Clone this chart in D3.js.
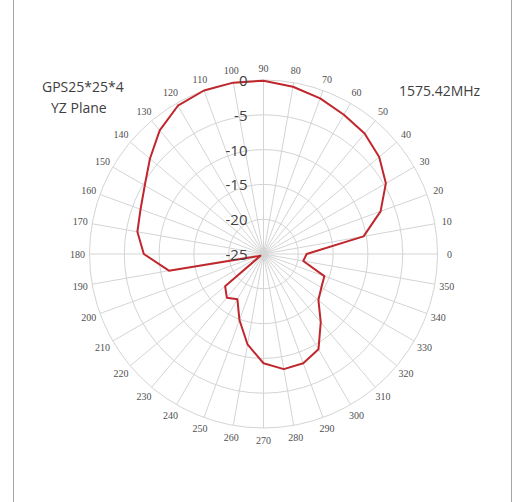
<!DOCTYPE html>
<html lang="en">
<head>
    <meta charset="UTF-8">
    <title>GPS25*25*4 YZ Plane</title>
    <script src="https://cdnjs.cloudflare.com/ajax/libs/d3/7.8.5/d3.min.js"></script>
    <style>
      body { margin: 0; background: #fff; }
      svg { display: block; }
    </style>
</head>
<body>
    <div id="chart"></div>
    <script>
        const width = 518;
        const height = 502;

        // angle in degrees (0 = right, counter-clockwise), gain in dB
        const angles = [0, 10, 20, 30, 40, 50, 60, 70, 80, 90, 100, 110, 120, 130, 140, 150, 160, 170,
                        180, 190, 200, 210, 220, 230, 240, 250, 260, 270, 280, 290, 300, 310, 320, 330, 340, 350];
        const gain = [-18.8, -10.4, -7.1, -4.7, -3.3, -2.4, -1.9, -1.2, -0.6, -0.1, 0.0, 0.0, -0.4, -1.8, -3.7, -5.3, -6.2, -6.6,
                      -7.8, -11.2, -24.0, -24.5, -17.8, -16.8, -17.5, -14.9, -11.8, -9.3, -8.2, -8.3, -9.2, -12.2, -14.7, -15.4, -15.7, -19.2];
        const ringTicks = [-25, -20, -15, -10, -5, 0];
        const labelAngles = angles;

        const cx = 263.5, cy = 254;
        const R = 174;

        const svg = d3.select('#chart').append('svg')
            .attr('width', width)
            .attr('height', height);

        // frame lines on the sides
        svg.append('line').attr('x1', 13.5).attr('x2', 13.5).attr('y1', 0).attr('y2', height)
            .attr('stroke', '#a6a6a6');
        svg.append('line').attr('x1', 511.5).attr('x2', 511.5).attr('y1', 0).attr('y2', height)
            .attr('stroke', '#a6a6a6');

        const r = d3.scaleLinear().domain([-25, 0]).range([0, R]);
        const rad = d => d * Math.PI / 180;

        const g = svg.append('g').attr('transform', `translate(${cx},${cy})`);

        // spokes
        g.selectAll('line.spoke')
            .data(labelAngles)
            .join('line')
            .attr('class', 'spoke')
            .attr('x1', 0).attr('y1', 0)
            .attr('x2', d => r(0) * Math.cos(rad(d)))
            .attr('y2', d => -r(0) * Math.sin(rad(d)))
            .attr('stroke', '#d4d4d4')
            .attr('stroke-width', 1);

        // rings
        g.selectAll('circle.ring')
            .data(ringTicks.filter(d => d > -25))
            .join('circle')
            .attr('class', 'ring')
            .attr('r', d => r(d))
            .attr('fill', 'none')
            .attr('stroke', '#d4d4d4')
            .attr('stroke-width', 1);

        // angle labels
        g.selectAll('text.ang')
            .data(labelAngles)
            .join('text')
            .attr('class', 'ang')
            .attr('x', d => (R + 12) * Math.cos(rad(d)))
            .attr('y', d => -(R + 12) * Math.sin(rad(d)))
            .attr('text-anchor', 'middle')
            .attr('dominant-baseline', 'central')
            .style('font-family', '"Liberation Serif", serif')
            .style('font-size', '10px')
            .style('fill', '#505050')
            .text(d => d);

        // pattern
        const line = d3.lineRadial()
            .angle((d, i) => Math.PI / 2 - rad(angles[i]))
            .radius(d => r(d))
            .curve(d3.curveLinearClosed);

        g.append('path')
            .datum(gain)
            .attr('d', line)
            .attr('fill', 'none')
            .attr('stroke', '#c0272d')
            .attr('stroke-width', 2)
            .attr('stroke-linejoin', 'round');

        // radial axis labels
        g.selectAll('text.rt')
            .data(ringTicks)
            .join('text')
            .attr('class', 'rt')
            .attr('x', -16)
            .attr('y', d => -r(d))
            .attr('text-anchor', 'end')
            .attr('dominant-baseline', 'central')
            .style('font-family', '"Open Sans", sans-serif')
            .style('font-size', '15px')
            .style('fill', '#404040')
            .text(d => d);

        // titles
        const titleStyle = sel => sel
            .style('font-family', '"Open Sans", sans-serif')
            .style('font-size', '14px')
            .style('fill', '#404040');

        svg.append('text').attr('x', 42).attr('y', 92).text('GPS25*25*4').call(titleStyle);
        svg.append('text').attr('x', 51).attr('y', 113).text('YZ Plane').call(titleStyle);
        svg.append('text').attr('x', 399).attr('y', 96).text('1575.42MHz').call(titleStyle);
    </script>
</body>
</html>
